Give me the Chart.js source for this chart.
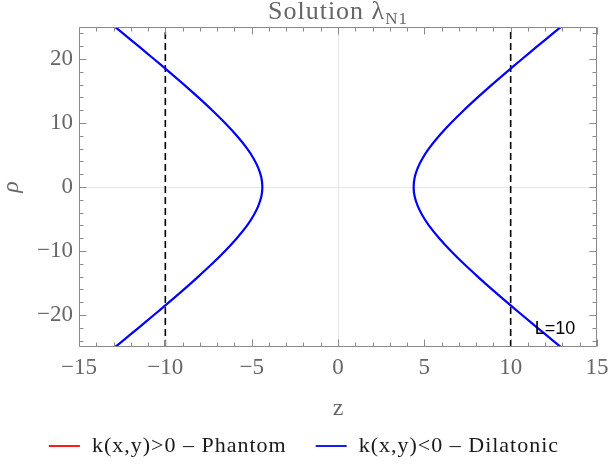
<!DOCTYPE html>
<html>
<head>
<meta charset="utf-8">
<script src="https://cdn.jsdelivr.net/npm/chart.js@4.4.1/dist/chart.umd.min.js"></script>
<style>
html,body{margin:0;padding:0;background:#ffffff;}
#wrap{width:608px;height:467px;position:relative;}
</style>
</head>
<body>
<div id="wrap"><canvas id="c"></canvas></div>
<script>
// ---- data ----
const rhoValues = [25, 24, 22, 20, 18, 16, 14, 12, 10, 8, 6, 4.5, 3, 1.5, 0,
                   -1.5, -3, -4.5, -6, -8, -10, -12, -14, -16, -18, -20, -22, -24, -25];
const zRightBranch = [12.91, 12.45, 11.55, 10.66, 9.78, 8.92, 8.09, 7.29, 6.54, 5.86, 5.26, 4.90, 4.62, 4.44, 4.38,
                      4.44, 4.62, 4.90, 5.26, 5.86, 6.54, 7.29, 8.09, 8.92, 9.78, 10.66, 11.55, 12.45, 12.91];
const zLeftBranch = [-12.91, -12.45, -11.55, -10.66, -9.78, -8.92, -8.09, -7.29, -6.54, -5.86, -5.26, -4.90, -4.62, -4.44, -4.38,
                     -4.44, -4.62, -4.90, -5.26, -5.86, -6.54, -7.29, -8.09, -8.92, -9.78, -10.66, -11.55, -12.45, -12.91];
const dashedZ = [-10, 10];
const dashedRho = [-25, 25];
const seriesLabels = ['k(x,y)>0 \u2013 Phantom', 'k(x,y)<0 \u2013 Dilatonic'];
const xTickLabels = [-15, -10, -5, 0, 5, 10, 15];
const yTickLabels = [-20, -10, 0, 10, 20];
const xMinorTicks = [-14,-13,-12,-11,-9,-8,-7,-6,-4,-3,-2,-1,1,2,3,4,6,7,8,9,11,12,13,14];
const yMinorTicks = [-24,-22,-18,-16,-14,-12,-8,-6,-4,-2,2,4,6,8,12,14,16,18,22,24];
const annotationText = 'L=10';
const annotationPos = [12.57, -22.2];
const titleMain = 'Solution \u03bb';
const titleSub = 'N1';

// ---- styles ----
const GRAY = '#666666';
const FRAME = '#8a8a8a';
const SERIF = "'Liberation Serif', 'Times New Roman', serif";

function pts(zs, rs) { return zs.map((z, i) => ({x: z, y: rs[i]})); }

const frameAndTextPlugin = {
  id: 'frameAndText',
  afterDatasetsDraw(chart) {
    const {ctx, chartArea: a, scales: {x, y}} = chart;
    ctx.save();
    ctx.strokeStyle = FRAME;
    ctx.lineWidth = 1;
    const L = Math.round(a.left) + 0.5, R = Math.round(a.right) - 0.5;
    const T = Math.round(a.top) + 0.5, B = Math.round(a.bottom) - 0.5;
    ctx.beginPath();
    ctx.rect(L, T, R - L, B - T);
    ctx.stroke();
    ctx.beginPath();
    const tick = (vals, len, horiz) => {
      vals.forEach(v => {
        if (horiz) {
          const px = Math.round(x.getPixelForValue(v)) + 0.5;
          ctx.moveTo(px, B); ctx.lineTo(px, B - len);
          ctx.moveTo(px, T); ctx.lineTo(px, T + len);
        } else {
          const py = Math.round(y.getPixelForValue(v)) + 0.5;
          ctx.moveTo(L, py); ctx.lineTo(L + len, py);
          ctx.moveTo(R, py); ctx.lineTo(R - len, py);
        }
      });
    };
    tick(xTickLabels, 7, true);
    tick(xMinorTicks, 4, true);
    tick(yTickLabels, 7, false);
    tick(yMinorTicks, 4, false);
    ctx.stroke();

    ctx.fillStyle = '#000000';
    ctx.font = "18px 'Liberation Sans', Arial, sans-serif";
    ctx.textAlign = 'center';
    ctx.textBaseline = 'middle';
    ctx.fillText(annotationText, x.getPixelForValue(annotationPos[0]), y.getPixelForValue(annotationPos[1]));
    ctx.restore();
  },
  afterDraw(chart) {
    const {ctx, chartArea: a} = chart;
    ctx.save();
    try { ctx.letterSpacing = '1px'; } catch (e) {}
    ctx.fillStyle = GRAY;
    ctx.textBaseline = 'alphabetic';
    ctx.textAlign = 'left';
    const mainFont = '26px ' + SERIF, subFont = '17px ' + SERIF;
    ctx.font = mainFont;
    const w1 = ctx.measureText(titleMain).width;
    ctx.font = subFont;
    const w2 = ctx.measureText(titleSub).width;
    const cx = (a.left + a.right) / 2;
    const x0 = cx - (w1 + w2) / 2;
    ctx.font = mainFont;
    ctx.fillText(titleMain, x0, 19);
    ctx.font = subFont;
    ctx.fillText(titleSub, x0 + w1, 24);

    const ds = chart.data.datasets;
    ctx.font = '22px ' + SERIF;
    ctx.textBaseline = 'middle';
    const lineW = 31, gapText = 12, gapItem = 29;
    const items = [0, 1].map(i => ({label: ds[i].label, color: ds[i].borderColor, tw: ctx.measureText(ds[i].label).width}));
    let total = 0;
    items.forEach((it, i) => { total += lineW + gapText + it.tw + (i ? 0 : gapItem); });
    let xx = chart.width / 2 - total / 2;
    const ly = 446;
    items.forEach(it => {
      ctx.strokeStyle = it.color;
      ctx.lineWidth = 1.8;
      ctx.beginPath();
      ctx.moveTo(xx, ly); ctx.lineTo(xx + lineW, ly);
      ctx.stroke();
      xx += lineW + gapText;
      ctx.fillStyle = '#1a1a1a';
      ctx.fillText(it.label, xx, ly);
      xx += it.tw + gapItem;
    });
    ctx.restore();
  }
};

const gridColor = (ctx) => (ctx.tick && ctx.tick.value === 0) ? '#e6e6e6' : 'rgba(0,0,0,0)';

new Chart(document.getElementById('c'), {
  type: 'scatter',
  data: {
    datasets: [
      {label: seriesLabels[0], data: [], borderColor: '#ff0000', backgroundColor: '#ff0000', showLine: true, pointRadius: 0, borderWidth: 2},
      {label: seriesLabels[1], data: pts(zLeftBranch, rhoValues), borderColor: '#0000ff', backgroundColor: '#0000ff', showLine: true, pointRadius: 0, borderWidth: 2.2, tension: 0.3},
      {label: seriesLabels[1], data: pts(zRightBranch, rhoValues), borderColor: '#0000ff', backgroundColor: '#0000ff', showLine: true, pointRadius: 0, borderWidth: 2.2, tension: 0.3},
      {label: 'L-', data: pts([dashedZ[0], dashedZ[0]], dashedRho), borderColor: '#000000', showLine: true, pointRadius: 0, borderWidth: 1.6, borderDash: [7, 4]},
      {label: 'L+', data: pts([dashedZ[1], dashedZ[1]], dashedRho), borderColor: '#000000', showLine: true, pointRadius: 0, borderWidth: 1.6, borderDash: [7, 4]}
    ]
  },
  options: {
    responsive: true,
    maintainAspectRatio: false,
    animation: false,
    layout: {padding: {top: 27, right: 0, left: 0, bottom: 0}},
    plugins: {
      legend: {display: false},
      tooltip: {enabled: false},
      title: {display: false}
    },
    scales: {
      x: {
        type: 'linear', min: -15, max: 15,
        afterBuildTicks: (s) => { s.ticks = xTickLabels.map(v => ({value: v})); },
        afterFit: (s) => { s.height = 120; s.paddingRight = 11; s.paddingLeft = 0; },
        border: {display: false},
        grid: {color: gridColor, drawTicks: false, lineWidth: 1},
        ticks: {color: GRAY, font: {family: SERIF, size: 23}, padding: 7, maxRotation: 0,
                callback: (v) => (v < 0 ? '\u2212' + Math.abs(v) : '' + v)},
        title: {display: true, text: 'z', color: GRAY, font: {family: SERIF, size: 24}, padding: {top: 0, bottom: 44}}
      },
      y: {
        type: 'linear', min: -25, max: 25,
        afterBuildTicks: (s) => { s.ticks = yTickLabels.map(v => ({value: v})); },
        afterFit: (s) => { s.width = 79; s.paddingTop = 0; s.paddingBottom = 0; },
        border: {display: false},
        grid: {color: gridColor, drawTicks: false, lineWidth: 1},
        ticks: {color: GRAY, font: {family: SERIF, size: 23}, padding: 6,
                callback: (v) => (v < 0 ? '\u2212' + Math.abs(v) : '' + v)},
        title: {display: true, text: '\u03c1', color: GRAY, font: {family: SERIF, size: 24, style: 'italic', lineHeight: 1}, padding: {top: 0, bottom: 0}}
      }
    }
  },
  plugins: [frameAndTextPlugin]
});
</script>
</body>
</html>
